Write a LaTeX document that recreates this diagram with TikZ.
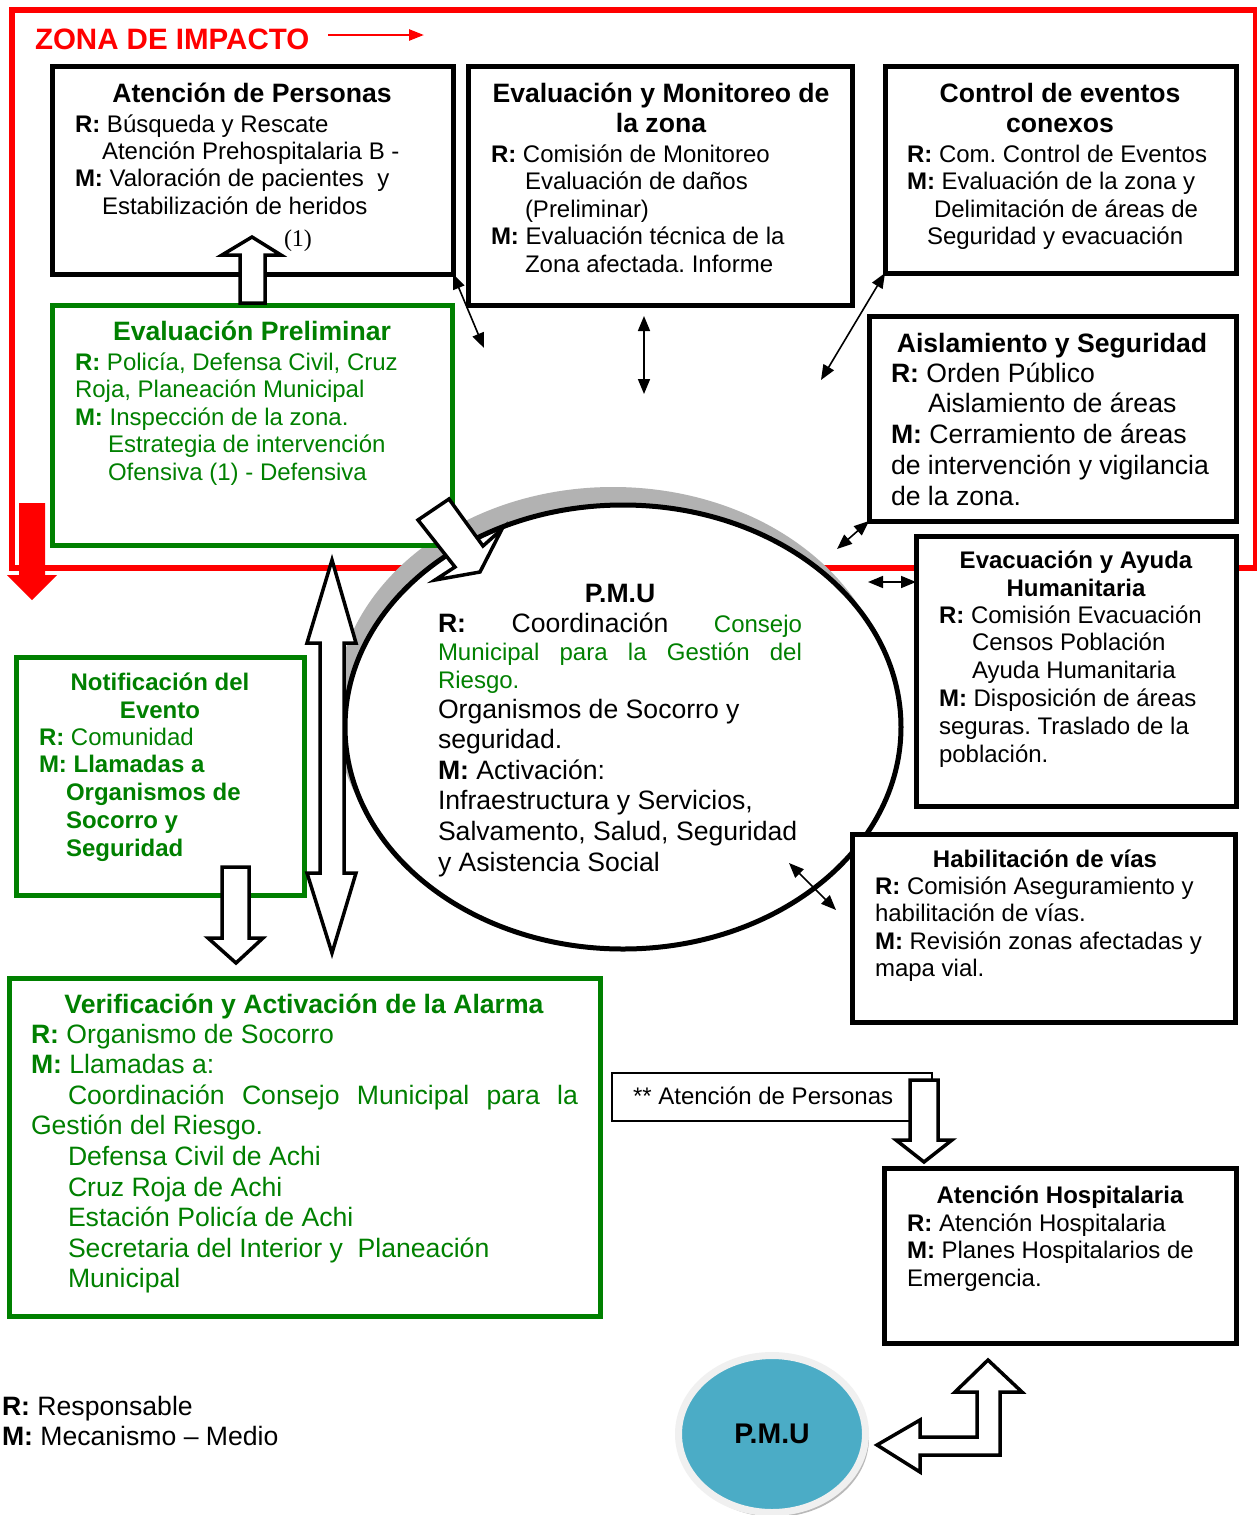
\documentclass[tikz,border=0pt]{standalone}
\usepackage{fontspec}
\setmainfont{Liberation Sans}
\newfontfamily\serifnum{Liberation Serif}
\usetikzlibrary{arrows.meta,shapes.geometric}
\definecolor{vgreen}{RGB}{0,128,0}
\definecolor{pmublue}{RGB}{75,172,198}
\definecolor{ringgray}{RGB}{240,240,240}
\frenchspacing
\newcommand\fsa{\fontsize{24}{27.5}\selectfont}
\newcommand\fsb{\fontsize{26.6}{30.6}\selectfont}
\newcommand\ttlbox[4]{\parbox[t]{#1}{\centering\fontsize{#2}{#3}\selectfont\bfseries #4}}
\newcommand\txtbox[3]{\parbox[t]{520pt}{\raggedright\fontsize{#1}{#2}\selectfont #3}}
\begin{document}
\begin{tikzpicture}[x=1pt,y=-1pt,
  bxk/.style={rectangle, draw=black, fill=white, line width=5pt, inner sep=0pt, outer sep=0pt},
  bxg/.style={bxk, draw=vgreen},
  txt/.style={anchor=base west, inner sep=0pt, outer sep=0pt},
  ttl/.style={anchor=base, inner sep=0pt, outer sep=0pt},
  blk/.style={draw=black, fill=white, line width=3.5pt, line join=miter},
  dbl/.style={line width=1.6pt, {Triangle[length=15pt,width=12pt]}-{Triangle[length=15pt,width=12pt]}}]

\fill[white] (0,0) rectangle (1257,1515);
\useasboundingbox (0,0) rectangle (1257,1515);

% impact zone frame
\draw[red, line width=6.5pt] (12,10) rectangle (1256,568);
\fill[red] (19,503) -- (45,503) -- (45,575) -- (57,575) -- (32,600) -- (7,575) -- (19,575) -- cycle;

% central ellipse with shadow
\fill[gray!60] (613,710) ellipse [x radius=278pt, y radius=223pt];
\node[ellipse, draw=black, fill=white, line width=5pt, inner sep=0pt,
      minimum width=556pt, minimum height=444pt] (pmu) at (623,727) {};

% boxes
\node[bxk, minimum width=401pt, minimum height=208pt] (boxA) at (252.5,170) {};
\node[bxk, minimum width=384pt, minimum height=239pt] (boxB) at (660,185.5) {};
\node[bxk, minimum width=351pt, minimum height=207pt] (boxC) at (1060.5,169.5) {};
\node[bxk, minimum width=367pt, minimum height=205pt] (boxD) at (1052.5,418.5) {};
\node[bxk, minimum width=320pt, minimum height=270pt] (boxE) at (1076,671) {};
\node[bxk, minimum width=383pt, minimum height=188pt] (boxF) at (1043.5,928) {};
\node[bxk, minimum width=352pt, minimum height=175pt] (boxG) at (1060,1255.5) {};
\node[bxg, minimum width=400pt, minimum height=240pt] (boxP) at (252,425) {};
\node[bxg, minimum width=288pt, minimum height=238pt] (boxN) at (160,776) {};
\node[bxg, minimum width=591pt, minimum height=338pt] (boxV) at (304.5,1147) {};
\node[bxk, line width=1.5pt, minimum width=320pt, minimum height=48pt] (boxT) at (772,1097) {};

% bottom P.M.U
\fill[gray!55] (775,1438) ellipse [x radius=94pt, y radius=79pt];
\node[ellipse, fill=pmublue, draw=ringgray, line width=7pt, inner sep=0pt,
      minimum width=187pt, minimum height=157pt, font=\fontsize{28.4}{30}\selectfont\bfseries] (pmub) at (772,1434) {P.M.U};

% block arrows
\draw[blk] (240,303) -- (240,255) -- (222,255) -- (252,237) -- (281,255) -- (265,255) -- (265,303) -- cycle;
\draw[blk] (332,560) -- (356,643) -- (344,643) -- (344,873) -- (356,873) -- (332,953) -- (307,873) -- (320,873) -- (320,643) -- (307,643) -- cycle;
\draw[blk] (222,867) -- (249,867) -- (249,938) -- (263,938) -- (236,963) -- (208,938) -- (222,938) -- cycle;
\draw[blk] (910,1080) -- (938,1080) -- (938,1140) -- (952,1140) -- (924,1162) -- (896,1140) -- (910,1140) -- cycle;
\draw[blk] (418,520) -- (449,499) -- (483,546) -- (502,529) -- (480,572) -- (435,580) -- (455,567) -- cycle;
\draw[blk] (877,1445) -- (920,1420) -- (920,1437) -- (977,1437) -- (977,1392) -- (955,1392) -- (988,1360) -- (1022,1392) -- (1000,1392) -- (1000,1455) -- (920,1455) -- (920,1472) -- cycle;

% thin double arrows
\coordinate (a1e) at (484,348);
\coordinate (a2s) at (644,316);
\coordinate (a2e) at (644,394);
\coordinate (a3e) at (821,380);
\coordinate (a4e) at (837,549);
\coordinate (a5s) at (868,582);
\coordinate (a6s) at (789,863);
\coordinate (a6e) at (836,910);
\draw[dbl] (boxA.south east) -- (a1e);
\draw[dbl] (a2s) -- (a2e);
\draw[dbl] (boxC.south west) -- (a3e);
\draw[dbl] (boxD.south west) -- (a4e);
\draw[dbl] (a5s) -- (a5s -| boxE.west);
\draw[dbl] (a6s) -- (a6e);

% zone label
\node[txt, text=red] (zona) at (35,49) {\fontsize{29.5}{32}\selectfont\bfseries ZONA DE IMPACTO};
\coordinate (za1) at (328,35);
\coordinate (za2) at (424,35);
\draw[red, line width=2.5pt, -{Triangle[length=15pt,width=11pt]}] (za1) -- (za2);

% box A
\node[ttl] (tA) at (252,102) {\ttlbox{390pt}{26.6}{30}{Atención de Personas}};
\node[txt] (bA) at (75,132) {\txtbox{24}{27.4}{\textbf{R:} Búsqueda y Rescate\\
  \hspace*{27pt}Atención Prehospitalaria B -\\
  \textbf{M:} Valoración de pacientes\ \ y\\
  \hspace*{27pt}Estabilización de heridos}};
\node[txt] (one) at (284,246) {\serifnum\fontsize{24}{26}\selectfont (1)};

% box B
\node[ttl] (tB) at (661,102) {\ttlbox{375pt}{26.6}{30}{Evaluación y Monitoreo de\\ la zona}};
\node[txt] (bB) at (491,162) {\txtbox{24}{27.5}{\textbf{R:} Comisión de Monitoreo\\
  \hspace*{34pt}Evaluación de daños\\
  \hspace*{34pt}(Preliminar)\\
  \textbf{M:} Evaluación técnica de la\\
  \hspace*{34pt}Zona afectada. Informe}};

% box C
\node[ttl] (tC) at (1060,102) {\ttlbox{340pt}{26.6}{30}{Control de eventos\\ conexos}};
\node[txt] (bC) at (907,162) {\txtbox{24}{27.6}{\textbf{R:} Com. Control de Eventos\\
  \textbf{M:} Evaluación de la zona y\\
  \hspace*{27pt}Delimitación de áreas de\\
  \hspace*{20pt}Seguridad y evacuación}};

% box D
\node[ttl] (tD) at (1052,352) {\ttlbox{360pt}{26.6}{30}{Aislamiento y Seguridad}};
\node[txt] (bD) at (891,382) {\txtbox{26.6}{30.9}{\textbf{R:} Orden Público\\
  \hspace*{37pt}Aislamiento de áreas\\
  \textbf{M:} Cerramiento de áreas\\
  de intervención y vigilancia\\
  de la zona.}};

% box E
\node[ttl] (tE) at (1076,568) {\ttlbox{310pt}{24}{28}{Evacuación y Ayuda\\ Humanitaria}};
\node[txt] (bE) at (939,623) {\txtbox{24}{27.8}{\textbf{R:} Comisión Evacuación\\
  \hspace*{33pt}Censos Población\\
  \hspace*{33pt}Ayuda Humanitaria\\
  \textbf{M:} Disposición de áreas\\
  seguras. Traslado de la\\
  población.}};

% box F
\node[ttl] (tF) at (1045,867) {\ttlbox{370pt}{24}{28}{Habilitación de vías}};
\node[txt] (bF) at (875,894) {\txtbox{24}{27.5}{\textbf{R:} Comisión Aseguramiento y\\
  habilitación de vías.\\
  \textbf{M:} Revisión zonas afectadas y\\
  mapa vial.}};

% box G
\node[ttl] (tG) at (1060,1203) {\ttlbox{340pt}{24}{28}{Atención Hospitalaria}};
\node[txt] (bG) at (907,1231) {\txtbox{24}{27.5}{\textbf{R:} Atención Hospitalaria\\
  \textbf{M:} Planes Hospitalarios de\\
  Emergencia.}};

% box P (green)
\node[ttl, text=vgreen] (tP) at (252,340) {\ttlbox{390pt}{26.6}{30}{Evaluación Preliminar}};
\node[txt, text=vgreen] (bP) at (75,370) {\txtbox{24}{27.5}{\textbf{R:} Policía, Defensa Civil, Cruz\\
  Roja, Planeación Municipal\\
  \textbf{M:} Inspección de la zona.\\
  \hspace*{33pt}Estrategia de intervención\\
  \hspace*{33pt}Ofensiva (1) - Defensiva}};

% box N (green)
\node[ttl, text=vgreen] (tN) at (160,690) {\ttlbox{280pt}{24}{28}{Notificación del\\ Evento}};
\node[txt, text=vgreen] (bN) at (39,745) {\txtbox{24}{27.8}{\textbf{R:} Comunidad\\
  \textbf{M: Llamadas a}\\
  \hspace*{27pt}\textbf{Organismos de}\\
  \hspace*{27pt}\textbf{Socorro y}\\
  \hspace*{27pt}\textbf{Seguridad}}};

% box V (green)
\node[ttl, text=vgreen] (tV) at (304,1013) {\ttlbox{580pt}{26.6}{30}{Verificación y Activación de la Alarma}};
\node[txt, text=vgreen] (bV) at (31,1043) {\txtbox{26.6}{30.6}{\textbf{R:} Organismo de Socorro\\
  \textbf{M:} Llamadas a:\\
  \hspace*{37pt}\makebox[510pt][l]{Coordinación\hfill Consejo\hfill Municipal\hfill para\hfill la}\\
  Gestión del Riesgo.\\
  \hspace*{37pt}Defensa Civil de Achi\\
  \hspace*{37pt}Cruz Roja de Achi\\
  \hspace*{37pt}Estación Policía de Achi\\
  \hspace*{37pt}Secretaria del Interior y\ \ Planeación\\
  \hspace*{37pt}Municipal}};

% box T
\node[txt] (tT) at (633,1104) {\fsa ** Atención de Personas};

% ellipse text
\node[ttl] (tPMU) at (620,602) {\ttlbox{200pt}{26.6}{30}{P.M.U}};
\node[txt] (ePMU1) at (438,632) {\txtbox{24}{28}{\makebox[364pt][l]{\fsb\textbf{R:}\hfill Coordinación\hfill{\fsa\color{vgreen}Consejo}}\\
  \color{vgreen}\makebox[364pt][l]{Municipal\hfill para\hfill la\hfill Gestión\hfill del}\\
  Riesgo.}};
\node[txt] (ePMU2) at (438,718) {\txtbox{26.6}{30.6}{Organismos de Socorro y\\
  seguridad.\\
  \textbf{M:} Activación:\\
  Infraestructura y Servicios,\\
  Salvamento, Salud, Seguridad\\
  y Asistencia Social}};

% legend
\node[txt] (leg) at (2,1415) {\txtbox{26.6}{30}{\textbf{R:} Responsable\\
  \textbf{M:} Mecanismo – Medio}};
\end{tikzpicture}
\end{document}
